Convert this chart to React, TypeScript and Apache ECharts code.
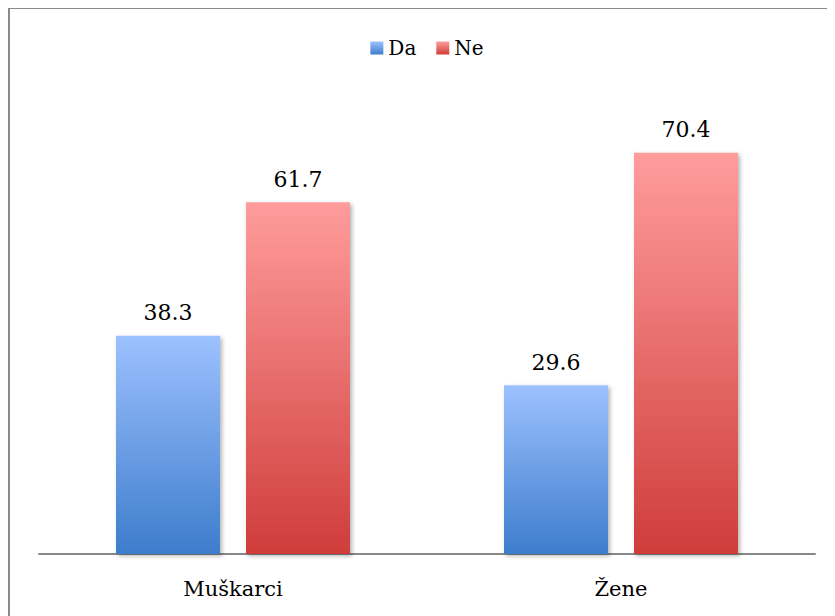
import React, { useEffect, useRef } from "react";
import * as echarts from "echarts";

const categories = ["Muškarci", "Žene"];
const seriesNames = ["Da", "Ne"];
const daValues = [38.3, 29.6];
const neValues = [61.7, 70.4];

const FONT = "DejaVu Serif";

function grad(top: string, bottom: string) {
  return new echarts.graphic.LinearGradient(0, 0, 0, 1, [
    { offset: 0, color: top },
    { offset: 1, color: bottom },
  ]);
}

export default function App() {
  const ref = useRef<HTMLDivElement>(null);
  useEffect(() => {
    if (!ref.current) return;
    const chart = echarts.init(ref.current, null, { renderer: "svg" });
    const daColor = grad("#9dc1ff", "#3d7dcc");
    const neColor = grad("#ff9c9c", "#cf3d3b");
    const barStyle = {
      shadowBlur: 4,
      shadowColor: "rgba(0,0,0,0.3)",
      shadowOffsetX: 2,
      shadowOffsetY: 2,
    };
    const label = {
      show: true,
      position: "top" as const,
      distance: 12,
      color: "#000",
      fontFamily: FONT,
      fontSize: 22,
    };
    chart.setOption({
      animation: false,
      textStyle: { fontFamily: FONT },
      legend: {
        top: 26,
        left: "center",
        itemWidth: 13,
        itemHeight: 13,
        itemGap: 20,
        icon: "rect",
        textStyle: { fontFamily: FONT, fontSize: 20, color: "#000" },
        data: seriesNames,
      },
      grid: { left: 31, top: 91, width: 776, height: 456 },
      xAxis: {
        type: "category",
        data: categories,
        axisLine: { lineStyle: { color: "#888", width: 2 } },
        axisTick: { show: false },
        axisLabel: {
          fontFamily: FONT,
          fontSize: 21,
          color: "#000",
          margin: 24,
        },
      },
      yAxis: {
        type: "value",
        min: 0,
        max: 80,
        show: false,
        splitLine: { show: false },
      },
      series: [
        {
          name: seriesNames[0],
          type: "bar",
          data: daValues,
          barWidth: 104,
          barGap: "25%",
          itemStyle: { color: daColor, ...barStyle },
          label,
        },
        {
          name: seriesNames[1],
          type: "bar",
          data: neValues,
          barWidth: 104,
          barGap: "25%",
          itemStyle: { color: neColor, ...barStyle },
          label,
        },
      ],
    });
    return () => chart.dispose();
  }, []);
  return (
    <div
      style={{
        width: 840,
        height: 620,
        borderTop: "2px solid #8a8a8a",
        borderLeft: "2px solid #8a8a8a",
        boxSizing: "border-box",
        marginTop: -1,
      }}
    >
      <div ref={ref} style={{ width: 838, height: 618, marginLeft: -2, marginTop: -2 }} />
    </div>
  );
}
